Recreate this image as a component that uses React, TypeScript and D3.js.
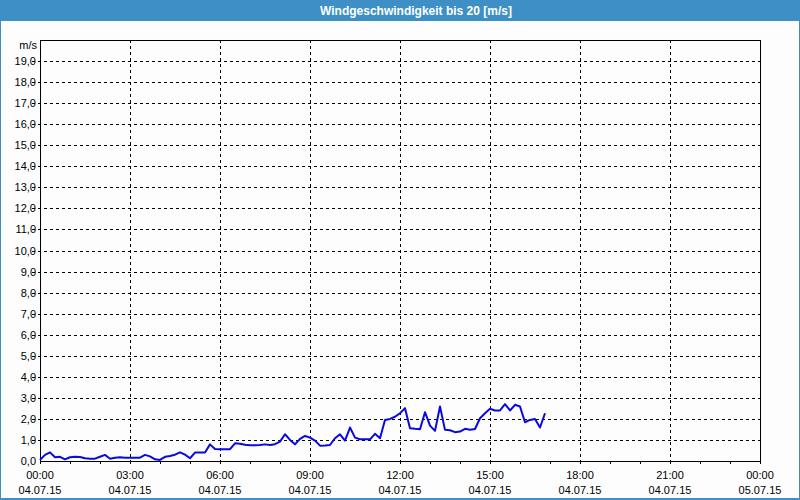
import React from "react";
import * as d3 from "d3";

const TITLE = "Windgeschwindigkeit bis 20 [m/s]";
const UNIT = "m/s";
const START = new Date(2015, 6, 4, 0, 0);
const END = new Date(2015, 6, 5, 0, 0);
const STEP_MIN = 10;
const WIND = [
  0.05, 0.29, 0.41, 0.18, 0.2, 0.08, 0.18, 0.2, 0.19, 0.13,
  0.11, 0.11, 0.2, 0.29, 0.11, 0.15, 0.18, 0.16, 0.16, 0.16,
  0.16, 0.29, 0.22, 0.08, 0.05, 0.2, 0.24, 0.3, 0.41, 0.3,
  0.13, 0.4, 0.4, 0.4, 0.79, 0.57, 0.56, 0.56, 0.56, 0.84,
  0.82, 0.77, 0.75, 0.75, 0.76, 0.79, 0.76, 0.8, 0.92, 1.27,
  1.0, 0.79, 1.05, 1.19, 1.11, 0.97, 0.73, 0.74, 0.76, 1.08,
  1.27, 0.97, 1.59, 1.11, 1.03, 1.03, 1.03, 1.29, 1.08, 1.95,
  2.0, 2.1, 2.27, 2.51, 1.56, 1.53, 1.51, 2.32, 1.68, 1.43,
  2.59, 1.48, 1.46, 1.37, 1.4, 1.53, 1.48, 1.52, 2.03, 2.27,
  2.48, 2.4, 2.4, 2.7, 2.4, 2.67, 2.59, 1.84, 1.95, 2.0,
  1.59, 2.27,
];
const Y_TICKS = d3.range(0, 20, 1);
const X_MAJOR_HOURS = [0, 3, 6, 9, 12, 15, 18, 21, 24];

const W = 800;
const H = 500;
const L = 40, R = 760, T = 40, B = 461;
const FONT = "'Liberation Sans', Arial, sans-serif";

export default function App() {
  const x = d3.scaleTime().domain([START, END]).range([L, R]);
  const y = d3.scaleLinear().domain([0, 20]).range([B, T]);
  const data = WIND.map((v, i) => ({ t: d3.timeMinute.offset(START, i * STEP_MIN), v }));
  const line = d3
    .line<{ t: Date; v: number }>()
    .x((d) => x(d.t))
    .y((d) => y(d.v));
  const hours = d3.timeHour.range(START, d3.timeHour.offset(END, 1));
  const fmtTime = d3.timeFormat("%H:%M");
  const fmtDate = d3.timeFormat("%d.%m.%y");
  const fmtY = (v: number) => v.toFixed(1).replace(".", ",");

  return (
    <svg
      width={W}
      height={H}
      style={{ position: "absolute", left: 0, top: 0, display: "block" }}
      fontFamily={FONT}
    >
      <rect x={0} y={0} width={W} height={H} fill="#fcfdfc" />
      <rect x={0} y={0} width={W} height={21} fill="#3d8fc6" />
      <rect x={0.5} y={0.5} width={W - 1} height={H - 1} fill="none" stroke="#3d8fc6" strokeWidth={1} />
      <rect x={0} y={H - 2} width={W} height={2} fill="#3d8fc6" />
      <text x={320} y={15} fill="#ffffff" fontSize={12} fontWeight="bold">
        {TITLE}
      </text>

      {/* horizontal grid */}
      {Y_TICKS.filter((v) => v > 0).map((v) => (
        <line
          key={"gy" + v}
          x1={32}
          x2={R}
          y1={Math.round(y(v)) + 0.5}
          y2={Math.round(y(v)) + 0.5}
          stroke="#000"
          strokeWidth={1}
          strokeDasharray="3,3"
        />
      ))}
      {/* vertical grid */}
      {X_MAJOR_HOURS.filter((h) => h > 0 && h < 24).map((h) => {
        const xx = Math.round(x(d3.timeHour.offset(START, h))) + 0.5;
        return (
          <line
            key={"gx" + h}
            x1={xx}
            x2={xx}
            y1={T}
            y2={B + 4}
            stroke="#000"
            strokeWidth={1}
            strokeDasharray="3,3"
          />
        );
      })}
      {/* minor ticks */}
      {hours.map((t, i) => {
        const xx = Math.round(x(t)) + 0.5;
        return <line key={"mt" + i} x1={xx} x2={xx} y1={B} y2={B + 3} stroke="#000" strokeWidth={1} />;
      })}

      {/* y labels */}
      <text x={37} y={49} textAnchor="end" fontSize={11} fill="#000">
        {UNIT}
      </text>
      {Y_TICKS.map((v) => (
        <text key={"yl" + v} x={36} y={y(v) + 4} textAnchor="end" fontSize={11} fill="#000">
          {fmtY(v)}
        </text>
      ))}

      {/* x labels */}
      {X_MAJOR_HOURS.map((h) => {
        const t = d3.timeHour.offset(START, h);
        const xx = x(t);
        return (
          <g key={"xl" + h}>
            <text x={xx} y={479} textAnchor="middle" fontSize={11} fill="#000">
              {fmtTime(t)}
            </text>
            <text x={xx} y={494} textAnchor="middle" fontSize={11} fill="#000">
              {fmtDate(t)}
            </text>
          </g>
        );
      })}

      {/* plot border */}
      <rect x={L + 0.5} y={T + 0.5} width={R - L} height={B - T} fill="none" stroke="#000" strokeWidth={1} />

      <path d={line(data) || ""} fill="none" stroke="#0a0ae0" strokeWidth={2} strokeLinejoin="round" />
    </svg>
  );
}
